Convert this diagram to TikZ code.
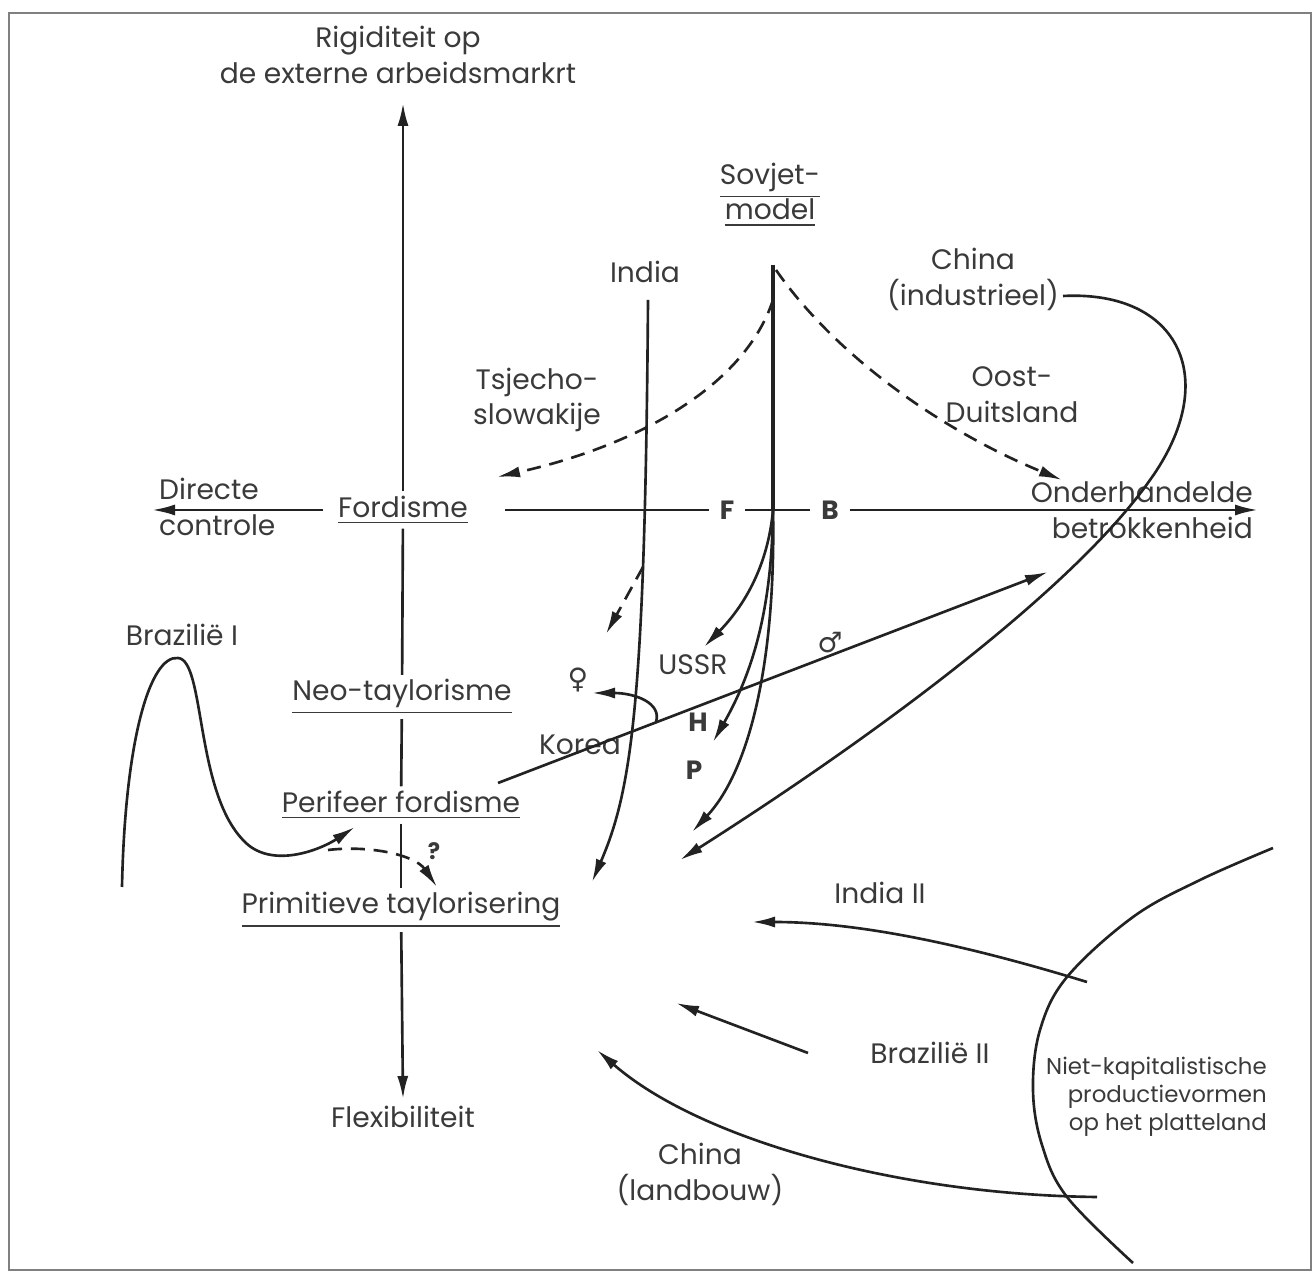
\documentclass[tikz,border=0pt]{standalone}
\usepackage{fontspec}
\setmainfont{Poppins}
\newfontfamily\symfont{DejaVu Sans}
\usetikzlibrary{arrows.meta,positioning,calc}

\definecolor{ink}{HTML}{222222}
\definecolor{txt}{HTML}{3A3A3A}

\tikzset{
  lbl/.style={font=\fontsize{8}{10.2}\selectfont, text=txt, inner sep=1pt},
  small/.style={lbl, font=\fontsize{6.5}{7.9}\selectfont},
  tick/.style={lbl, font=\fontsize{7.5}{9}\selectfont\bfseries, fill=white, inner xsep=3pt},
  plain/.style={draw=ink, line width=0.75pt},
  trail/.style={plain, -{Latex[length=2.3mm,width=1.1mm]}},
  dtrail/.style={trail, dash pattern=on 4pt off 2.5pt},
}

\begin{document}
\begin{tikzpicture}[x=0.01cm, y=-0.01cm]
\useasboundingbox (0,0) rectangle (1315,1274);
\draw[gray, line width=0.8pt] (9,13) rectangle (1311,1270);

% axes
\node[lbl, align=center] (rig) at (398,55) {Rigiditeit op\\de externe arbeidsmarkrt};
\node[lbl] (flex) at (403,1117) {Flexibiliteit};
\node[lbl, align=left, anchor=west] (dir) at (155,507) {Directe\\controle};
\node[lbl, align=right, anchor=east] (onder) at (1257,510) {Onderhandelde\\betrokkenheid};
\node[lbl, inner xsep=4pt] (ford) at (403,510) {\underline{Fordisme}};
\node[lbl] (neo) at (402,697) {\underline{Neo-taylorisme}};
\node[lbl] (perif) at (401,805) {\underline{Perifeer fordisme}};
\node[lbl] (prim) at (401,910) {\underline{Primitieve taylorisering}};
\node[tick] (fF) at (727,510) {F};
\node[tick] (fB) at (830,510) {B};

\coordinate (vtop) at (403,103);
\coordinate (vbot) at (403,1099);
\coordinate (dtip) at (152,510);
\coordinate (hr) at (505,510);
\coordinate (otip) at (1258,510);

\draw[trail] (ford) -- (vtop);
\draw[plain] (ford) -- (neo);
\draw[plain] (neo) -- (perif);
\draw[plain] (perif) -- (prim);
\draw[trail] (prim) -- (vbot);
\draw[trail] (ford) -- (dtip);
\draw[plain] (hr) -- (fF);
\draw[plain] (fF) -- (fB);
\draw[trail] (fB) -- (otip);

% Sovjet-model
\node[lbl, align=center] (sov) at (770,195) {\underline{Sovjet-}\\\underline{model}};
\node[lbl, align=center] (tsj) at (537,400) {Tsjecho-\\slowakije};
\node[lbl, align=center] (oost) at (1012,395) {Oost-\\Duitsland};
\node[lbl] (ussr) at (693,665) {USSR};
\node[lbl, font=\fontsize{7.5}{9}\selectfont\bfseries] (hh) at (698,722) {H};
\node[lbl, font=\fontsize{7.5}{9}\selectfont\bfseries] (pp) at (694,770) {P};

\coordinate (stop) at (773,265);
\coordinate (sax) at (773,510);
\coordinate (sdl) at (773,300);
\coordinate (sdr) at (776,270);
\draw[plain, line width=1pt] (stop) -- (sax);
\draw[dtrail] (sdl) .. controls (745,385) and (640,445) .. (497,477);
\draw[dtrail] (sdr) .. controls (835,355) and (940,430) .. (1062,480);
\draw[trail] (sax) .. controls (768,565) and (745,605) .. (704,647);
\draw[trail] (sax) .. controls (772,590) and (760,660) .. (713,742);
\draw[trail] (sax) .. controls (776,660) and (750,770) .. (692,832);

% India
\node[lbl] (india) at (645,272) {India};
\coordinate (itop) at (648,300);
\draw[trail] (itop) .. controls (645,700) and (632,790) .. (592,882);
\draw[dtrail] (643,567) -- (606,634);

% Korea
\node[lbl] (korea) at (580,745) {Korea};
\node[lbl, font=\symfont\fontsize{8}{9}\selectfont] (fem) at (578,680) {♀};
\node[lbl, font=\symfont\fontsize{8}{9}\selectfont] (male) at (830,643) {♂};
\coordinate (kstart) at (498,783);
\coordinate (kend) at (1048,572);
\draw[trail] (kstart) -- (kend);
\draw[trail] (656,722) .. controls (662,703) and (635,693) .. (592,693);

% China (industrieel)
\node[lbl, align=center] (chind) at (973,279) {China\\(industrieel)};
\coordinate (cistart) at (1063,296);
\draw[trail] (cistart) .. controls (1180,290) and (1222,380) .. (1150,480)
  .. controls (1080,580) and (900,720) .. (680,860);

% Brazilie I
\node[lbl] (braz1) at (182,635) {Brazilië I};
\node[lbl, font=\fontsize{6.5}{8}\selectfont\bfseries] (qm) at (434,851) {?};
\draw[trail] (122,887) .. controls (125,740) and (150,655) .. (178,658)
  .. controls (205,660) and (195,790) .. (243,840)
  .. controls (270,870) and (320,850) .. (355,827);
\draw[dtrail] (328,850) .. controls (370,845) and (415,855) .. (437,887);

% platteland
\node[small, align=right, anchor=east] (niet) at (1271,1097) {Niet-kapitalistische\\productievormen\\op het platteland};
\draw[plain] plot[smooth, tension=0.6] coordinates {(1273,848) (1200,880) (1133,917) (1067,977) (1040,1030) (1033,1090) (1042,1145) (1067,1197) (1133,1263)};
\node[lbl] (india2) at (880,893) {India II};
\node[lbl] (braz2) at (930,1053) {Brazilië II};
\node[lbl, align=center] (chland) at (700,1174) {China\\(landbouw)};
\draw[trail] (1087,982) .. controls (950,940) and (850,922) .. (752,922);
\draw[trail] (808,1053) -- (676,1003);
\draw[trail] (1097,1197) .. controls (900,1195) and (700,1140) .. (597,1050);
\end{tikzpicture}
\end{document}
